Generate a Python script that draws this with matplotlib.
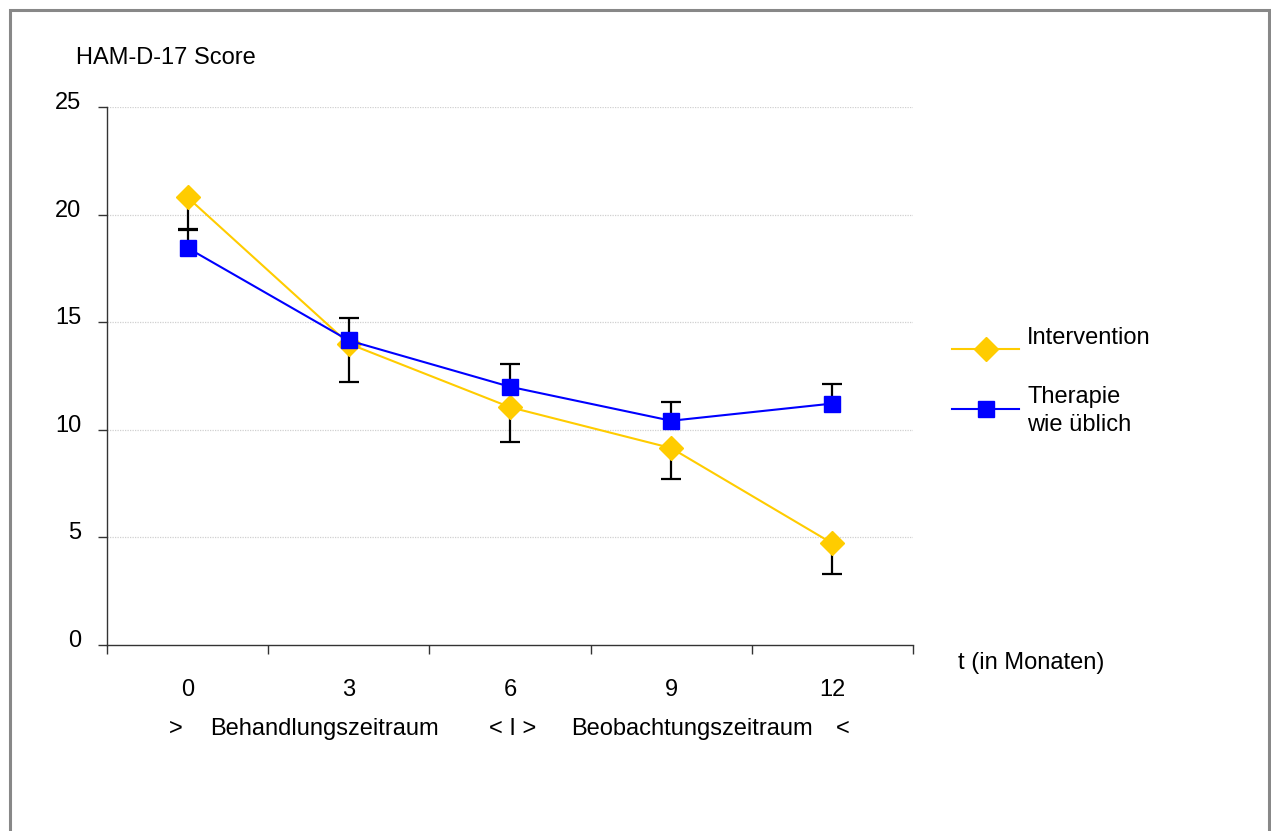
import numpy as np
import matplotlib.pyplot as plt
from matplotlib.patches import Rectangle
from matplotlib.lines import Line2D

plt.rcParams['font.family'] = ['Liberation Sans', 'DejaVu Sans']

# ---- data ----
months = ['0', '3', '6', '9', '12']
intervention = [20.8, 14.0, 11.05, 9.15, 4.72]
intervention_low = [19.3, 12.23, 9.45, 7.70, 3.30]   # untere Fehlerbalken
therapie = [18.45, 14.15, 12.0, 10.42, 11.22]
therapie_high = [19.33, 15.18, 13.04, 11.28, 12.11]  # obere Fehlerbalken
yticks = [0, 5, 10, 15, 20, 25]

W, H = 1271, 831
fig = plt.figure(figsize=(W / 100, H / 100), dpi=100)
# Position der Achse in Pixeln
x0, x1, ytop, ybot = 107, 913, 107, 645
ax = fig.add_axes([x0 / W, 1 - ybot / H, (x1 - x0) / W, (ybot - ytop) / H])

x = np.arange(len(months))
yel = '#FFCC00'
blu = '#0000FF'
fs = 17

# Gitterlinien
for v in yticks[1:]:
    ax.axhline(v, color='#d0d0d0', lw=0.9, ls=(0, (1, 1)), zorder=0)

# Fehlerbalken (einseitig, Kappe nur am Ende)
ax.vlines(x, intervention_low, intervention, color='black', lw=1.6, zorder=2)
ax.plot(x, intervention_low, ls='none', marker='_', ms=14, mew=1.6, color='black', zorder=2)
ax.vlines(x, therapie, therapie_high, color='black', lw=1.6, zorder=2)
ax.plot(x, therapie_high, ls='none', marker='_', ms=14, mew=1.6, color='black', zorder=2)

# Linien
ax.plot(x, intervention, color=yel, lw=1.5, marker='D', ms=12,
        mfc=yel, mec=yel, zorder=3)
ax.plot(x, therapie, color=blu, lw=1.5, marker='s', ms=11,
        mfc=blu, mec=blu, zorder=4)

ax.set_xlim(-0.5, len(months) - 0.5)
ax.set_ylim(0, 25)

for s in ['top', 'right']:
    ax.spines[s].set_visible(False)
for s in ['left', 'bottom']:
    ax.spines[s].set_color('#333333')
    ax.spines[s].set_linewidth(1.0)

ax.set_yticks(yticks)
ax.set_yticklabels([])
ax.tick_params(axis='y', direction='out', length=6.5, width=1.0, color='#333333')
ax.set_xticks(np.arange(-0.5, len(months), 1.0))
ax.set_xticklabels([])
ax.tick_params(axis='x', direction='out', length=6.5, width=1.0, color='#333333')


def ftext(px, py, s, **kw):
    fig.text(px / W, 1 - py / H, s, fontsize=fs, **kw)


# y-Beschriftungen
for v in yticks:
    py = ybot - v * (ybot - ytop) / 25 - 4
    ftext(81, py, str(v), ha='right', va='center')

# x-Beschriftungen
step = (x1 - x0) / len(months)
for i, m in enumerate(months):
    ftext(x0 + step * (i + 0.5), 690, m, ha='center', va='center')

ftext(76, 58, 'HAM-D-17 Score', ha='left', va='center')
ftext(958, 663, 't (in Monaten)', ha='left', va='center')

ftext(176, 729, '>', ha='center', va='center')
ftext(210, 729, 'Behandlungszeitraum', ha='left', va='center')
ftext(513, 729, '< I >', ha='center', va='center')
ftext(571, 729, 'Beobachtungszeitraum', ha='left', va='center')
ftext(843, 729, '<', ha='center', va='center')

# Legende
for ly, col, mk, ms in [(349, yel, 'D', 12), (409, blu, 's', 11)]:
    fig.add_artist(Line2D([952 / W, 1019 / W], [1 - ly / H, 1 - ly / H],
                          color=col, lw=1.5, transform=fig.transFigure))
    fig.add_artist(Line2D([985.5 / W], [1 - ly / H], color=col, marker=mk,
                          ms=ms, mfc=col, mec=col, lw=0, transform=fig.transFigure))
ftext(1027, 338, 'Intervention', ha='left', va='center')
ftext(1027, 411, 'Therapie\nwie üblich', ha='left', va='center', linespacing=1.35)

# Rahmen
fig.add_artist(Rectangle((9.5 / W, -0.05), 1259 / W, 1 - 9.5 / H + 0.05,
                         transform=fig.transFigure, fill=False,
                         edgecolor='#888888', lw=2.2))

fig.savefig('out.png', dpi=100)
